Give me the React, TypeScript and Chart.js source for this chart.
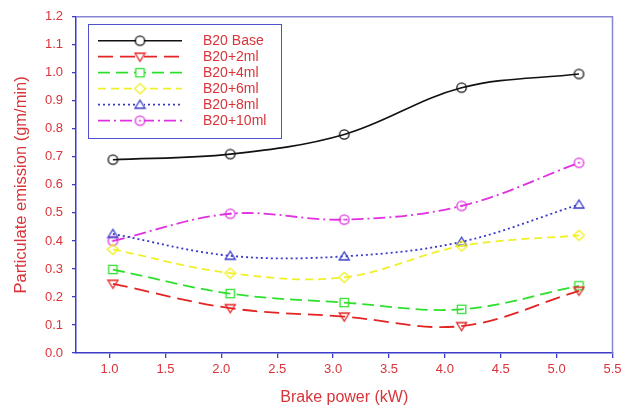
import { useEffect, useRef } from 'react';
import { Chart, registerables } from 'chart.js';

Chart.register(...registerables);

const brakePower = [1.03, 2.08, 3.1, 4.15, 5.2];
const seriesNames = ['B20 Base', 'B20+2ml', 'B20+4ml', 'B20+6ml', 'B20+8ml', 'B20+10ml'];
const base = [0.69, 0.71, 0.78, 0.947, 0.996];
const ml2 = [0.247, 0.16, 0.13, 0.096, 0.222];
const ml4 = [0.298, 0.212, 0.18, 0.156, 0.24];
const ml6 = [0.37, 0.285, 0.27, 0.382, 0.42];
const ml8 = [0.425, 0.347, 0.345, 0.397, 0.53];
const ml10 = [0.4, 0.497, 0.476, 0.525, 0.679];
const xTicks = [1.0, 1.5, 2.0, 2.5, 3.0, 3.5, 4.0, 4.5, 5.0, 5.5];
const yTicks = [0, 0.1, 0.2, 0.3, 0.4, 0.5, 0.6, 0.7, 0.8, 0.9, 1.0, 1.1, 1.2];

const FONT = 'Arial, "Liberation Sans", sans-serif';
const TEXT_RED = '#d8343a';
const AXIS_BLUE = '#3c3cc8';

function makeMarker(kind: string, color: string): HTMLCanvasElement {
  const c = document.createElement('canvas');
  c.width = 13;
  c.height = 13;
  const g = c.getContext('2d')!;
  g.strokeStyle = color;
  g.fillStyle = color;
  g.lineWidth = 1.3;
  const m = 6.5;
  g.beginPath();
  if (kind === 'circle' || kind === 'circleDot') {
    g.arc(m, m, 4.7, 0, Math.PI * 2);
    g.stroke();
    if (kind === 'circleDot') {
      g.beginPath();
      g.arc(m, m, 1.1, 0, Math.PI * 2);
      g.fill();
    }
  } else if (kind === 'triDown') {
    g.moveTo(m - 5, m - 3.5);
    g.lineTo(m + 5, m - 3.5);
    g.lineTo(m, m + 4.5);
    g.closePath();
    g.stroke();
  } else if (kind === 'triUp') {
    g.moveTo(m - 5, m + 3.5);
    g.lineTo(m + 5, m + 3.5);
    g.lineTo(m, m - 4.5);
    g.closePath();
    g.stroke();
  } else if (kind === 'square') {
    g.rect(m - 4.2, m - 4.2, 8.4, 8.4);
    g.stroke();
  } else if (kind === 'diamond') {
    g.moveTo(m, m - 5);
    g.lineTo(m + 5.5, m);
    g.lineTo(m, m + 5);
    g.lineTo(m - 5.5, m);
    g.closePath();
    g.stroke();
  }
  return c;
}

const seriesValues = [base, ml2, ml4, ml6, ml8, ml10];
const seriesColors = ['#111111', '#e42424', '#2ee02e', '#f0f028', '#3a3ac8', '#e030e0'];
const seriesDash = [[], [15, 7], [12, 6], [8, 5], [2, 3], [12, 4, 2, 4]];
const seriesMarkers = ['circle', 'triDown', 'square', 'diamond', 'triUp', 'circleDot'];

const legendPlugin = {
  id: 'boxLegend',
  afterDraw(chart: any) {
    const ctx = chart.ctx;
    const area = chart.chartArea;
    ctx.save();
    ctx.strokeStyle = '#8585d4';
    ctx.lineWidth = 1.5;
    ctx.beginPath();
    ctx.moveTo(area.left, area.top);
    ctx.lineTo(area.right, area.top);
    ctx.lineTo(area.right, area.bottom);
    ctx.stroke();

    const bx = 88.5, by = 24.5, bw = 193, bh = 114;
    ctx.fillStyle = '#ffffff';
    ctx.fillRect(bx, by, bw, bh);
    ctx.strokeStyle = '#5050cc';
    ctx.lineWidth = 1;
    ctx.strokeRect(bx, by, bw, bh);

    chart.data.datasets.forEach((ds: any, i: number) => {
      const y = 40.7 + 16 * i;
      ctx.strokeStyle = ds.borderColor;
      ctx.lineWidth = ds.borderWidth;
      ctx.setLineDash(ds.borderDash || []);
      ctx.beginPath();
      ctx.moveTo(98, y);
      ctx.lineTo(182, y);
      ctx.stroke();
      ctx.setLineDash([]);
      const img = ds.pointStyle as HTMLCanvasElement;
      ctx.fillStyle = '#ffffff';
      ctx.fillRect(140 - 4, y - 4, 8, 8);
      ctx.drawImage(img, 140 - img.width / 2, y - img.height / 2);
      ctx.fillStyle = TEXT_RED;
      ctx.font = `14px ${FONT}`;
      ctx.textBaseline = 'middle';
      ctx.textAlign = 'left';
      ctx.fillText(ds.label, 203, y + 0.5);
    });
    ctx.restore();
  },
};

export default function App() {
  const ref = useRef<HTMLCanvasElement | null>(null);

  useEffect(() => {
    document.body.style.margin = '0';
    const canvas = ref.current!;
    const datasets = seriesNames.map((name, i) => ({
      label: name,
      data: brakePower.map((x, j) => ({ x, y: seriesValues[i][j] })),
      borderColor: seriesColors[i],
      borderWidth: i === 0 ? 1.6 : 1.8,
      borderDash: seriesDash[i],
      pointStyle: makeMarker(seriesMarkers[i], seriesColors[i]),
      pointRadius: 5,
      backgroundColor: 'transparent',
      tension: 0.36,
      fill: false,
    }));

    const chart = new Chart(canvas, {
      type: 'line',
      data: { datasets },
      plugins: [legendPlugin],
      options: {
        animation: false,
        responsive: false,
        layout: { padding: { top: 15, right: 18.5, left: 0, bottom: 0 } },
        plugins: { legend: { display: false }, tooltip: { enabled: false } },
        scales: {
          x: {
            type: 'linear',
            min: 0.7,
            max: 5.5,
            afterBuildTicks: (s: any) => {
              s.ticks = xTicks.map((v) => ({ value: v }));
            },
            afterFit: (s: any) => {
              s.height = 56;
            },
            border: { display: true, color: AXIS_BLUE, width: 1.5 },
            grid: { drawOnChartArea: false, drawTicks: true, tickLength: 5, color: AXIS_BLUE, lineWidth: 1.3 },
            ticks: {
              color: TEXT_RED,
              font: { family: FONT, size: 13 },
              padding: 4,
              maxRotation: 0,
              callback: (v: any) => Number(v).toFixed(1),
            },
            title: {
              display: true,
              text: 'Brake power (kW)',
              color: TEXT_RED,
              font: { family: FONT, size: 16 },
              padding: { top: 0, bottom: 2 },
            },
          },
          y: {
            type: 'linear',
            min: 0,
            max: 1.2,
            afterBuildTicks: (s: any) => {
              s.ticks = yTicks.map((v) => ({ value: v }));
            },
            afterFit: (s: any) => {
              s.width = 76;
            },
            border: { display: true, color: AXIS_BLUE, width: 1.5 },
            grid: { drawOnChartArea: false, drawTicks: true, tickLength: 4, color: AXIS_BLUE, lineWidth: 1.3 },
            ticks: {
              color: TEXT_RED,
              font: { family: FONT, size: 13 },
              padding: 9,
              callback: (v: any) => Number(v).toFixed(1),
            },
            title: {
              display: true,
              text: 'Particulate emission (gm/min)',
              color: TEXT_RED,
              font: { family: FONT, size: 16.5 },
              padding: { top: 12, bottom: 0 },
            },
          },
        },
      },
    } as any);
    return () => chart.destroy();
  }, []);

  return (
    <div style={{ position: 'absolute', left: 0, top: 0, width: 631, height: 409 }}>
      <canvas ref={ref} width={631} height={409} />
    </div>
  );
}
